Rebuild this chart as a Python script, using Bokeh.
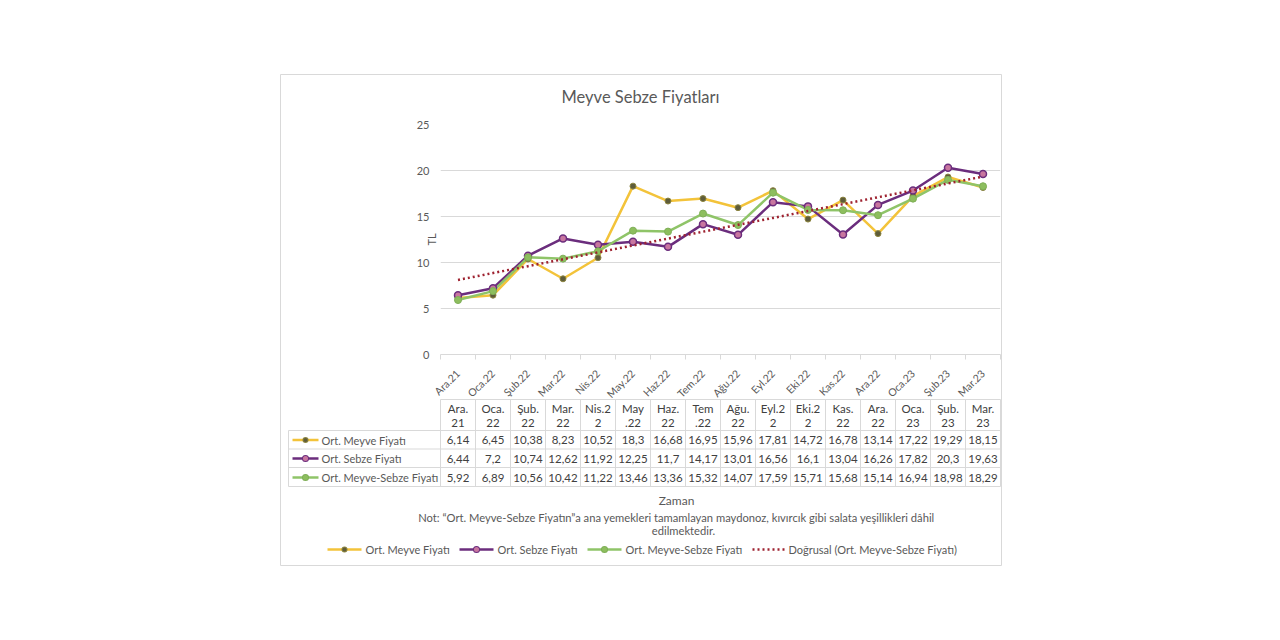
import math
import numpy as np
from bokeh.plotting import figure
from bokeh.models import Range1d, FixedTicker
from bokeh.core.properties import value
from bokeh.embed import file_html
from bokeh.resources import INLINE

# ---------------- data ----------------
months = ["Ara.21", "Oca.22", "Şub.22", "Mar.22", "Nis.22", "May.22", "Haz.22", "Tem.22",
          "Ağu.22", "Eyl.22", "Eki.22", "Kas.22", "Ara.22", "Oca.23", "Şub.23", "Mar.23"]
table_head_top = ["Ara.", "Oca.", "Şub.", "Mar.", "Nis.2", "May", "Haz.", "Tem",
                  "Ağu.", "Eyl.2", "Eki.2", "Kas.", "Ara.", "Oca.", "Şub.", "Mar."]
table_head_bottom = ["21", "22", "22", "22", "2", ".22", "22", ".22",
                     "22", "2", "2", "22", "22", "23", "23", "23"]
meyve = [6.14, 6.45, 10.38, 8.23, 10.52, 18.3, 16.68, 16.95, 15.96, 17.81, 14.72, 16.78, 13.14, 17.22, 19.29, 18.15]
sebze = [6.44, 7.2, 10.74, 12.62, 11.92, 12.25, 11.7, 14.17, 13.01, 16.56, 16.1, 13.04, 16.26, 17.82, 20.3, 19.63]
meyve_sebze = [5.92, 6.89, 10.56, 10.42, 11.22, 13.46, 13.36, 15.32, 14.07, 17.59, 15.71, 15.68, 15.14, 16.94, 18.98, 18.29]
series_names = ["Ort. Meyve Fiyatı", "Ort. Sebze Fiyatı", "Ort. Meyve-Sebze Fiyatı"]
trend_name = "Doğrusal (Ort. Meyve-Sebze Fiyatı)"
y_ticks = [0, 5, 10, 15, 20, 25]
title_text = "Meyve Sebze Fiyatları"
y_title = "TL"
x_title = "Zaman"
note_lines = ["Not: \u201cOrt. Meyve-Sebze Fiyatın\u201da ana yemekleri tamamlayan maydonoz, kıvırcık gibi salata yeşillikleri dâhil",
              "edilmektedir."]

# ---------------- style ----------------
FONT = "Lato"
GREY = "#595959"
DARK = "#404040"
GRID = "#d9d9d9"
BORDER = "#d9d9d9"
C_MEYVE = "#F3C33A"
C_SEBZE = "#6B2D7D"
C_MS = "#8FC468"
C_TREND = "#9E2230"
M_FILL = ["#5E5C3A", "#C8769F", "#8DBE5E"]
M_LINE = ["#8C8541", C_SEBZE, "#7FAF57"]
M_SIZE = [6, 7, 7]
COLORS = [C_MEYVE, C_SEBZE, C_MS]

W, H = 1264, 624
FL, FR, FT, FB = 440, 1000, 124, 354   # plot frame edges (page px)

p = figure(width=W, height=H, x_range=Range1d(0, 16), y_range=Range1d(0, 25),
           output_backend="svg", toolbar_location=None, title=None,
           min_border_left=FL, min_border_right=W - FR, min_border_top=FT, min_border_bottom=H - FB)
p.outline_line_color = None
p.extra_x_ranges = {"px": Range1d(FL, FR)}
p.extra_y_ranges = {"py": Range1d(FB, FT)}

xs = [i + 0.5 for i in range(len(months))]

p.xaxis.ticker = FixedTicker(ticks=xs, minor_ticks=list(range(len(months) + 1)))
p.xaxis.major_label_overrides = {x: m for x, m in zip(xs, months)}
p.xaxis.major_label_orientation = math.pi / 4
p.xaxis.major_tick_line_color = None
p.xaxis.major_tick_out = 0
p.xaxis.major_tick_in = 0
p.xaxis.minor_tick_line_color = GRID
p.xaxis.minor_tick_in = 0
p.xaxis.minor_tick_out = 5
p.xaxis.axis_line_color = GRID
p.xaxis.major_label_text_font = FONT
p.xaxis.major_label_text_font_size = "10.5px"
p.xaxis.major_label_text_color = GREY
p.xaxis.major_label_standoff = 12

p.yaxis.ticker = FixedTicker(ticks=y_ticks)
p.yaxis.axis_line_color = None
p.yaxis.major_tick_line_color = None
p.yaxis.minor_tick_line_color = None
p.yaxis.major_tick_out = 0
p.yaxis.major_tick_in = 0
p.yaxis.major_label_standoff = 11
p.yaxis.major_label_text_font = FONT
p.yaxis.major_label_text_font_size = "11px"
p.yaxis.major_label_text_color = GREY
p.yaxis.axis_label = y_title
p.yaxis.axis_label_standoff = -24
p.yaxis.axis_label_text_font = FONT
p.yaxis.axis_label_text_font_size = "11px"
p.yaxis.axis_label_text_font_style = "normal"
p.yaxis.axis_label_text_color = GREY

p.xgrid.visible = False
p.ygrid.ticker = FixedTicker(ticks=y_ticks)
p.ygrid.grid_line_color = GRID

# ---------------- series ----------------
p.line(xs, meyve, line_color=C_MEYVE, line_width=2.5)
p.line(xs, sebze, line_color=C_SEBZE, line_width=2.5)
p.line(xs, meyve_sebze, line_color=C_MS, line_width=2.5)
for vals, i in zip([meyve, sebze, meyve_sebze], range(3)):
    p.scatter(xs, vals, size=M_SIZE[i], fill_color=M_FILL[i], line_color=M_LINE[i],
              line_width=1.5 if i == 1 else 1)

coef = np.polyfit(np.arange(1, len(months) + 1), meyve_sebze, 1)
trend = np.polyval(coef, np.arange(1, len(months) + 1))
p.line(xs, trend, line_color=C_TREND, line_width=2.5, line_dash="2 3")

# ---------------- decoration outside the frame (page px via helper ranges) ----------------
OV = dict(x_range_name="px", y_range_name="py", level="overlay")


def seg(x0, y0, x1, y1, color=GRID, width=1, **kw):
    p.segment(x0=x0, y0=y0, x1=x1, y1=y1, line_color=color, line_width=width, **OV, **kw)


def txt(xs_, ys_, texts, size="11px", color=GREY, align="center", angle=0.0):
    p.text(x=xs_, y=ys_, text=texts, text_font=value(FONT), text_font_size=value(size),
           text_color=color, text_align=align, text_baseline="middle", angle=angle, **OV)


def key_marker(x, y, i):
    s = M_SIZE[i] - 1
    seg([x - 0.01], [y], [x + 0.01], [y], color=M_LINE[i], width=s + 1, line_cap="round")
    seg([x - 0.01], [y], [x + 0.01], [y], color=M_FILL[i], width=s - 1, line_cap="round")


# outer border
seg([280, 280, 1001, 280], [74, 565, 74, 74], [1001, 1001, 1001, 280], [74, 565, 565, 565], color=BORDER)

txt([640], [96], [title_text], size="16.5px")

# data table
col_w = 35
col_edges = [FL + col_w * k for k in range(len(months) + 1)]
col_centers = [FL + col_w * (k + 0.5) for k in range(len(months))]
row_lines = [430, 448.5, 467, 486]
row_centers = [439.5, 458, 477]

seg([FL], [399], [FR], [399])
seg([288] * 4, row_lines, [FR] * 4, row_lines)
seg(col_edges, [399] * len(col_edges), col_edges, [486] * len(col_edges))
seg([288], [430], [288], [486])

txt(col_centers, [408] * len(months), table_head_top, size="11.5px", color=DARK)
txt(col_centers, [422] * len(months), table_head_bottom, size="11.5px", color=DARK)
for vals, yc in zip([meyve, sebze, meyve_sebze], row_centers):
    txt(col_centers, [yc] * len(vals), [("%g" % v).replace(".", ",") for v in vals],
        size="11.5px", color=DARK)

for i in range(3):
    seg([292], [row_centers[i]], [318], [row_centers[i]], color=COLORS[i], width=2.5)
    key_marker(305, row_centers[i], i)
txt([321] * 3, row_centers, series_names, size="11px", align="left")

txt([676], [500], [x_title], size="12px")
txt([676], [517], [note_lines[0]], size="11.2px")
txt([683], [530], [note_lines[1]], size="11.2px")

# legend
leg_y = 549
leg_x0 = [327, 459, 587]
leg_tx = [365, 497, 625]
for i in range(3):
    seg([leg_x0[i]], [leg_y], [leg_x0[i] + 34], [leg_y], color=COLORS[i], width=2.5)
    key_marker(leg_x0[i] + 17, leg_y, i)
txt(leg_tx, [leg_y] * 3, series_names, size="11px", align="left")
seg([752], [leg_y], [784], [leg_y], color=C_TREND, width=2.5, line_dash="2 3")
txt([788], [leg_y], [trend_name], size="11px", align="left")

open("out.html", "w").write(file_html(p, INLINE))
